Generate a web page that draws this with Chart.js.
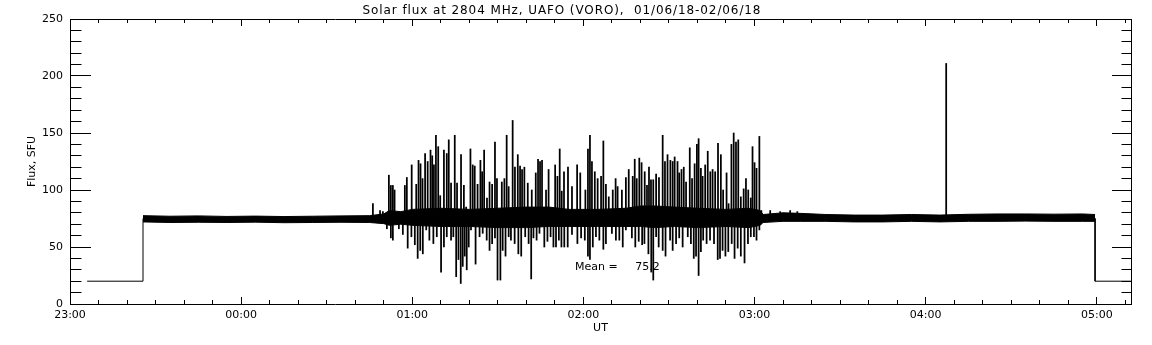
<!DOCTYPE html>
<html>
<head>
<meta charset="utf-8">
<script src="https://cdn.jsdelivr.net/npm/chart.js@4"></script>
<style>
html,body{margin:0;padding:0;background:#fff;}
#wrap{width:1152px;height:345px;position:relative;background:#fff;}
</style>
</head>
<body>
<div id="wrap"><canvas id="c" width="1152" height="345"></canvas></div>
<script>
// ---- text ----
const titleText = 'Solar flux at 2804 MHz, UAFO (VORO),  01/06/18-02/06/18';
const yTitle = 'Flux, SFU';
const xTitle = 'UT';
const meanText = 'Mean =     75.2';
const hourLabels = ['23:00','00:00','01:00','02:00','03:00','04:00','05:00'];

// ---- data (time in minutes after 23:00 UT, flux in SFU) ----
const baseline = 75;

// off-sun level and the transitions
const levelTimes  = [6, 25.6, 25.6, 359.4, 359.4, 372];
const levelValues = [20, 20, 75, 75, 20, 20];

// envelope of the dense noise band
const bandTimes = [25.6,35,45,55,65,75,85,95,105,110,112,116,120,130,140,150,160,168,175,185,195,200,205,212,220,230,238,242,243,250,256,265,275,285,295,305,315,325,335,345,355,359.4];
const bandUpper = [77.5,77,77.3,76.8,77.1,76.7,77,77.3,77.5,79,82,81,83,84,83,84,85,85,83,83,84,86,86,85,84,83,84,82,78.5,80,79.5,78.5,78,78,78.5,78,78.7,79,79,78.8,79,78.5];
const bandLower = [72,71.5,71.7,71.5,71.8,71.3,71.5,71.7,71.5,70.5,69,70,69,68,68,67,67,68,68,68,68,68,67,68,67,68,67,69,71.5,72.5,72.5,72.5,72,72,72.5,72,72.5,72.5,72.7,72.5,72.5,72.5];

// upward spikes
const riseTimes = [
106.2,108.7,109.7,111.8,112.5,113.2,113.8,117.4,118.1,119.8,
121.4,122.2,122.9,123.6,124.5,125.4,126.4,127.0,127.6,128.3,
129.1,129.8,131.1,132.1,132.8,133.6,134.9,135.7,137.1,138.1,
138.9,140.4,141.2,141.9,142.9,143.9,144.5,145.2,146.2,147.1,
148.0,149.0,149.7,151.4,152.3,153.1,153.8,155.2,156.0,157.0,
157.8,158.5,159.3,160.5,161.9,163.3,164.1,164.8,165.5,166.9,
167.8,168.5,170.1,170.9,171.7,172.4,173.2,174.6,176.0,177.8,
178.9,180.7,181.6,182.3,183.0,184.0,185.0,186.2,187.0,187.9,
188.9,190.3,191.3,192.0,193.5,194.9,195.9,197.3,198.0,198.7,
199.6,200.4,201.5,202.3,203.0,203.7,204.5,205.5,206.5,207.8,
208.6,209.5,210.5,211.3,212.0,213.0,213.6,214.4,215.2,216.0,
217.3,218.1,219.0,219.8,220.4,221.2,221.8,222.7,223.6,224.5,
225.3,226.2,227.2,228.2,229.0,230.2,230.9,231.9,232.7,233.5,
234.3,235.2,236.2,237.0,237.8,238.7,239.3,240.0,240.7,241.7,242.4,
245.5,249.0,252.5,255.0,307.2];
const riseValues = [
88,82,81,113,104,104,100,104,111,122,
105,126,123,110,132,125,135,130,122,148,
138,95,135,132,144,106,148,106,131,104,
85,136,122,121,105,126,116,135,93,107,
105,142,110,107,110,148,103,161,120,131,
121,118,120,106,100,115,127,125,126,100,
118,82,122,112,136,99,116,120,103,122,
115,100,136,148,125,116,110,112,143,105,
94,100,110,103,100,111,118,112,127,110,
128,124,116,104,120,109,109,114,111,148,
125,131,126,125,129,125,115,118,120,107,
137,110,123,140,145,119,112,122,134,116,
118,116,141,131,100,115,88,140,150,142,
144,94,101,110,100,93,138,124,119,147,82,
82,81,82,81,211];

// downward spikes
const dipTimes = [
111.1,112.5,113.2,115.3,116.7,118.4,119.7,120.9,121.9,122.8,
123.7,124.9,126.0,127.4,128.6,130.1,131.1,132.1,133.6,134.4,
135.4,136.2,137.0,137.7,138.4,139.1,139.8,140.6,142.2,143.6,
144.7,146.1,147.1,148.0,149.0,149.9,150.9,151.7,152.7,153.8,
154.6,155.9,157.2,158.2,159.6,160.8,161.7,162.5,163.6,164.6,
166.3,167.4,168.5,169.5,170.4,171.4,172.3,173.3,174.5,176.0,
177.9,179.2,180.5,181.6,182.3,183.3,184.4,185.6,187.0,187.9,
190.0,191.4,192.6,193.8,194.9,197.0,198.2,199.4,200.6,201.4,
202.8,203.8,204.5,205.5,206.4,207.8,208.8,210.4,211.3,212.5,
213.6,214.8,216.6,217.7,218.7,219.5,220.4,221.2,222.0,223.2,
224.4,225.8,227.1,227.9,228.8,229.8,230.8,232.0,233.0,234.1,
235.2,236.5,237.7,238.7,239.8,240.7,241.7];
const dipValues = [
66,58,56,66,61,49,59,52,40,47,
44,65,56,53,59,28,50,59,56,59,
24,39,18,33,42,30,50,65,35,59,
62,56,47,53,58,21,21,47,42,59,
56,53,44,42,59,53,22,58,56,62,
50,55,59,50,50,56,50,50,50,61,
53,58,56,42,39,50,59,56,48,53,
62,56,56,50,65,58,50,55,52,53,
44,28,21,59,50,47,42,56,47,53,
58,50,59,53,40,42,25,46,56,53,
56,53,39,40,47,42,46,53,40,49,
42,36,53,59,59,56,65];

// position of the mean annotation in data units
const meanAt = {x: 177.1, y: 32.7};

// ---- helpers ----
const FONT = 'DejaVu Sans';
function tickDash(ctx, isX) {
  if (!ctx.tick || !ctx.chart.chartArea) return [];
  const a = ctx.chart.chartArea;
  const span = isX ? a.bottom - a.top : a.right - a.left;
  const v = ctx.tick.value;
  const major = isX ? (v % 60 === 0) : (v % 50 === 0);
  const L = isX ? (major ? 7 : 4) : (major ? 20 : 10.5);
  return [L, span - 2 * L, L, span * 2];
}

const textPlugin = {
  id: 'idlText',
  afterDraw(chart) {
    const c = chart.ctx;
    c.save();
    c.fillStyle = '#000';
    c.font = '12px "' + FONT + '"';
    c.letterSpacing = '0.9px';
    c.textAlign = 'center';
    c.textBaseline = 'alphabetic';
    c.fillText(titleText, 562, 13.5);
    c.letterSpacing = '0px';
    c.font = '11px "' + FONT + '"';
    c.textAlign = 'left';
    c.textBaseline = 'middle';
    c.fillText(meanText, chart.scales.x.getPixelForValue(meanAt.x), chart.scales.y.getPixelForValue(meanAt.y));
    c.restore();
  }
};

const lineStyle = {type: 'line', borderColor: '#000', borderWidth: 1, pointRadius: 0, tension: 0};

new Chart(document.getElementById('c'), {
  type: 'line',
  data: {
    datasets: [
      Object.assign({}, lineStyle, {data: bandTimes.map((t, i) => ({x: t, y: bandUpper[i]})), fill: '+1', backgroundColor: '#000'}),
      Object.assign({}, lineStyle, {data: bandTimes.map((t, i) => ({x: t, y: bandLower[i]})), fill: false}),
      Object.assign({}, lineStyle, {data: levelTimes.map((t, i) => ({x: t, y: levelValues[i]})), fill: false}),
      {type: 'bar', data: riseTimes.map((t, i) => ({x: t, y: [baseline, riseValues[i]]})), backgroundColor: '#000', borderWidth: 0, barThickness: 1.1, grouped: false},
      {type: 'bar', data: dipTimes.map((t, i) => ({x: t, y: [dipValues[i], baseline]})), backgroundColor: '#000', borderWidth: 0, barThickness: 1.1, grouped: false}
    ]
  },
  options: {
    responsive: false,
    animation: false,
    events: [],
    layout: {padding: 0},
    plugins: {legend: {display: false}, tooltip: {enabled: false}, title: {display: false}},
    scales: {
      x: {
        type: 'linear', position: 'bottom', min: 0, max: 372, offset: false,
        ticks: {stepSize: 10, autoSkip: false, maxRotation: 0, minRotation: 0, includeBounds: false, padding: 5,
          color: '#000', font: {family: FONT, size: 11},
          callback: (v) => (v % 60 === 0 ? hourLabels[v / 60] : '')},
        grid: {display: true, drawOnChartArea: true, drawTicks: false, offset: false, color: '#000', lineWidth: 1},
        border: {display: true, color: '#000', width: 1, dash: (ctx) => tickDash(ctx, true)},
        title: {display: true, text: xTitle, color: '#000', font: {family: FONT, size: 11}, padding: {top: 0, bottom: 10}},
        afterFit: (s) => { s.height = 41; }
      },
      x2: {
        type: 'linear', position: 'top', min: 0, max: 372, offset: false,
        ticks: {display: false}, grid: {display: false, drawTicks: false},
        border: {display: true, color: '#000', width: 1},
        afterFit: (s) => { s.height = 19; }
      },
      y: {
        type: 'linear', position: 'left', min: 0, max: 250,
        ticks: {stepSize: 10, autoSkip: false, padding: 7, color: '#000', font: {family: FONT, size: 11},
          callback: (v) => (v % 50 === 0 ? String(v) : '')},
        grid: {display: true, drawOnChartArea: true, drawTicks: false, color: '#000', lineWidth: 1},
        border: {display: true, color: '#000', width: 1, dash: (ctx) => tickDash(ctx, false)},
        title: {display: true, text: yTitle, color: '#000', font: {family: FONT, size: 11}, padding: {top: 26, bottom: 0}},
        afterFit: (s) => { s.width = 70; }
      },
      y2: {
        type: 'linear', position: 'right', min: 0, max: 250,
        ticks: {display: false}, grid: {display: false, drawTicks: false},
        border: {display: true, color: '#000', width: 1},
        afterFit: (s) => { s.width = 21; }
      }
    }
  },
  plugins: [textPlugin]
});
</script>
</body>
</html>
